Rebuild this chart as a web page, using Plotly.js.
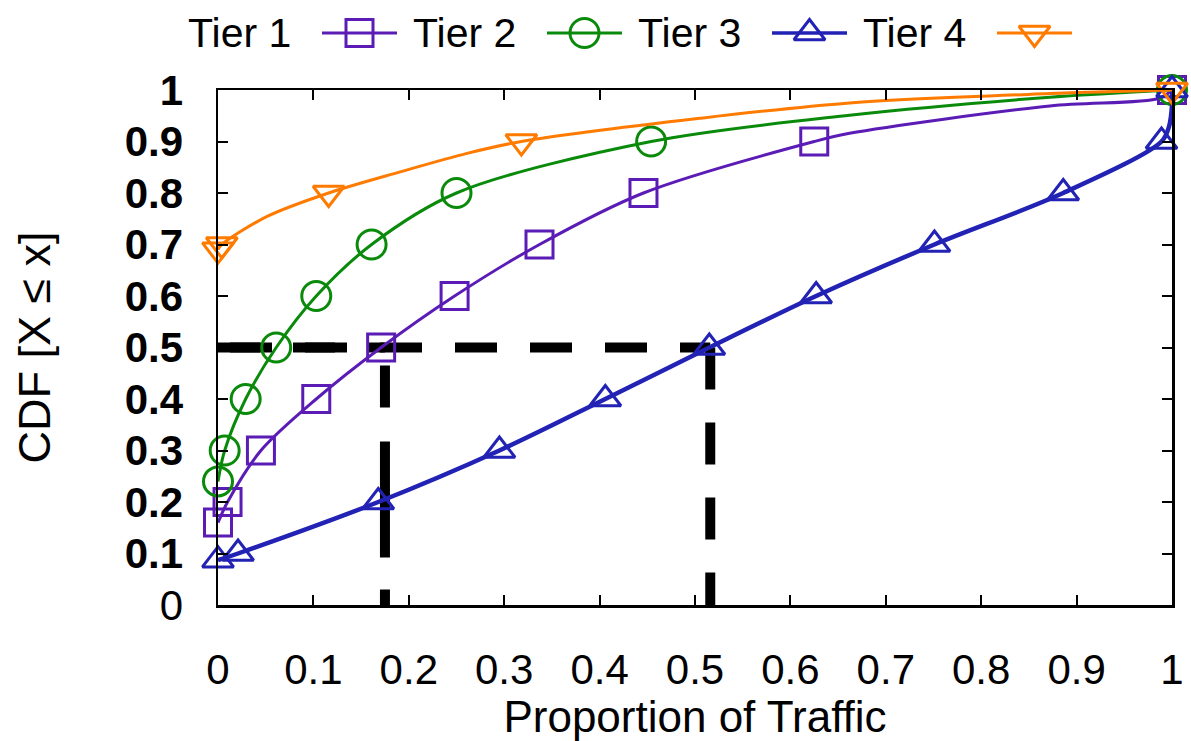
<!DOCTYPE html>
<html>
<head>
<meta charset="utf-8">
<script src="https://cdn.plot.ly/plotly-3.0.1.min.js"></script>
<style>html,body{margin:0;padding:0;background:#fff;}#chart{width:1191px;height:741px;}</style>
</head>
<body>
<div id="chart"></div>
<script>
// ---- data ----
const seriesNames = ["Tier 1", "Tier 2", "Tier 3", "Tier 4"];
const seriesColors = ["#5b1cb6", "#0a8a0a", "#2222b4", "#ff7b00"];
const seriesSymbols = ["square-open", "circle-open", "triangle-up-open", "triangle-down-open"];

// Tier 1 (purple squares)
const tier1CurveX = [0, 0.010, 0.045, 0.103, 0.171, 0.248, 0.337, 0.446, 0.625, 0.662, 0.872, 0.987, 1];
const tier1CurveY = [0.16, 0.20, 0.30, 0.40, 0.50, 0.60, 0.70, 0.80, 0.90, 0.916, 0.969, 0.984, 1];
const tier1MarkX = [0, 0.010, 0.045, 0.103, 0.171, 0.248, 0.337, 0.446, 0.625, 1];
const tier1MarkY = [0.16, 0.20, 0.30, 0.40, 0.50, 0.60, 0.70, 0.80, 0.90, 1];

// Tier 2 (green circles)
const tier2CurveX = [0, 0.007, 0.029, 0.061, 0.103, 0.161, 0.250, 0.454, 0.662, 0.872, 1];
const tier2CurveY = [0.24, 0.30, 0.40, 0.50, 0.60, 0.70, 0.80, 0.90, 0.951, 0.986, 1];
const tier2MarkX = [0, 0.007, 0.029, 0.061, 0.103, 0.161, 0.250, 0.454, 1];
const tier2MarkY = [0.24, 0.30, 0.40, 0.50, 0.60, 0.70, 0.80, 0.90, 1];

// Tier 3 (blue triangles)
const tier3CurveX = [0, 0.021, 0.168, 0.295, 0.406, 0.515, 0.627, 0.751, 0.886, 0.989, 0.997, 1, 1];
const tier3CurveY = [0.087, 0.10, 0.20, 0.30, 0.40, 0.50, 0.60, 0.70, 0.80, 0.90, 0.93, 0.97, 1];
const tier3MarkX = [0, 0.021, 0.168, 0.295, 0.406, 0.515, 0.627, 0.751, 0.886, 0.989, 1];
const tier3MarkY = [0.087, 0.10, 0.20, 0.30, 0.40, 0.50, 0.60, 0.70, 0.80, 0.90, 1];

// Tier 4 (orange inverted triangles)
const tier4CurveX = [0, 0.004, 0.051, 0.116, 0.191, 0.261, 0.318, 0.505, 0.662, 0.872, 1];
const tier4CurveY = [0.69, 0.70, 0.754, 0.80, 0.841, 0.877, 0.90, 0.945, 0.975, 0.993, 1];
const tier4MarkX = [0, 0.004, 0.116, 0.318, 1];
const tier4MarkY = [0.69, 0.70, 0.80, 0.90, 1];

// medians marked by the dashed guide lines
const medianLevel = 0.5;
const medianX = [0.175, 0.516]; // Tier 1, Tier 3

const xTickVals = [0, 0.1, 0.2, 0.3, 0.4, 0.5, 0.6, 0.7, 0.8, 0.9, 1];
const xTickText = ["0", "0.1", "0.2", "0.3", "0.4", "0.5", "0.6", "0.7", "0.8", "0.9", "1"];
const yTickVals = [0, 0.1, 0.2, 0.3, 0.4, 0.5, 0.6, 0.7, 0.8, 0.9, 1];
const yTickText = ["0", "0.1", "0.2", "0.3", "0.4", "0.5", "0.6", "0.7", "0.8", "0.9", "1"];

// ---- build ----
const FONT = "Liberation Sans, Arial, Helvetica, sans-serif";
const curves = [[tier1CurveX, tier1CurveY], [tier2CurveX, tier2CurveY], [tier3CurveX, tier3CurveY], [tier4CurveX, tier4CurveY]];
const marks = [[tier1MarkX, tier1MarkY], [tier2MarkX, tier2MarkY], [tier3MarkX, tier3MarkY], [tier4MarkX, tier4MarkY]];
const lineWidths = [3, 3, 4.5, 3];
const markSizes = [27, 29, 27, 27];

const traces = [];
// dashed guide lines (drawn first, beneath the curves)
const guide = {color: "#000", width: 10};
traces.push({x: [0, medianX[0]], y: [medianLevel, medianLevel], mode: "lines", line: Object.assign({dash: "42px,33px"}, guide), hoverinfo: "skip", showlegend: false});
traces.push({x: [0, medianX[1]], y: [medianLevel, medianLevel], mode: "lines", line: Object.assign({dash: "0px,12px,42px,21px"}, guide), hoverinfo: "skip", showlegend: false});
traces.push({x: [medianX[0], medianX[0]], y: [medianLevel, 0], mode: "lines", line: Object.assign({dash: "0px,18px,42px,34px,116px,32px,60px,0px"}, guide), hoverinfo: "skip", showlegend: false});
traces.push({x: [medianX[1], medianX[1]], y: [medianLevel, 0], mode: "lines", line: Object.assign({dash: "42px,33px"}, guide), hoverinfo: "skip", showlegend: false});

for (let i = 0; i < 4; i++) {
  traces.push({x: curves[i][0], y: curves[i][1], mode: "lines", name: seriesNames[i],
    line: {color: seriesColors[i], width: lineWidths[i], shape: "spline", smoothing: 0.9}, showlegend: false, cliponaxis: false});
  traces.push({x: marks[i][0], y: marks[i][1], mode: "markers", name: seriesNames[i],
    marker: {symbol: seriesSymbols[i], size: markSizes[i], color: seriesColors[i], line: {width: 3, color: seriesColors[i]}},
    showlegend: false, cliponaxis: false});
}

// manual gnuplot-style legend (text, then sample) on a hidden pixel-mapped axis pair
const legendTextRight = 293, legendStep = 225, sampleStart = 322, sampleLen = 75, legendY = 33;
const annotations = [];
for (let i = 0; i < 4; i++) {
  const x0 = sampleStart + i * legendStep;
  traces.push({x: [x0, x0 + sampleLen], y: [legendY, legendY], xaxis: "x2", yaxis: "y2", mode: "lines",
    line: {color: seriesColors[i], width: lineWidths[i] > 3 ? 3.5 : 3}, hoverinfo: "skip", showlegend: false, cliponaxis: false});
  traces.push({x: [x0 + sampleLen / 2], y: [legendY], xaxis: "x2", yaxis: "y2", mode: "markers",
    marker: {symbol: seriesSymbols[i], size: markSizes[i], color: seriesColors[i], line: {width: 3, color: seriesColors[i]}},
    hoverinfo: "skip", showlegend: false, cliponaxis: false});
  annotations.push({xref: "x2", yref: "y2", x: legendTextRight + i * legendStep, y: legendY, xanchor: "right", yanchor: "middle",
    text: seriesNames[i], showarrow: false, font: {family: FONT, size: 41, color: "#000"}});
}

const plotH = 605; // paper height = 741 - b(136)
const layout = {
  width: 1191, height: 741,
  margin: {l: 218, r: 19, t: 0, b: 136},
  paper_bgcolor: "#fff", plot_bgcolor: "#fff",
  font: {family: FONT, color: "#000"},
  showlegend: false,
  xaxis: {
    range: [0, 1], domain: [0, 1], anchor: "y",
    tickvals: xTickVals, ticktext: xTickText,
    ticks: "inside", ticklen: 10, tickwidth: 2, tickcolor: "#000",
    showline: true, linecolor: "#000", linewidth: 2.5, mirror: "ticks",
    showgrid: false, zeroline: false,
    tickfont: {family: FONT, size: 42, color: "#000"}, ticklabelstandoff: 26,
    title: {text: "Proportion of Traffic", font: {family: FONT, size: 44, color: "#000"}, standoff: 22}
  },
  yaxis: {
    range: [0, 1], domain: [0, 515 / plotH], anchor: "x",
    tickvals: yTickVals, ticktext: yTickText.map(t => t === "0" ? t : "<b>" + t + "</b>"),
    ticks: "inside", ticklen: 10, tickwidth: 2, tickcolor: "#000",
    showline: true, linecolor: "#000", linewidth: 2.5, mirror: "ticks",
    showgrid: false, zeroline: false,
    tickfont: {family: FONT, size: 42, color: "#000"}, ticklabelstandoff: 24,
    title: {text: "CDF [X ≤ x]", font: {family: FONT, size: 45, color: "#000"}, standoff: 60}
  },
  xaxis2: {range: [218, 1172], domain: [0, 1], anchor: "y2", visible: false, fixedrange: true},
  yaxis2: {range: [0.14 * plotH, 0], domain: [0.86, 1], anchor: "x2", visible: false, fixedrange: true},
  annotations: annotations
};

Plotly.newPlot("chart", traces, layout, {displayModeBar: false, staticPlot: true});
</script>
</body>
</html>
